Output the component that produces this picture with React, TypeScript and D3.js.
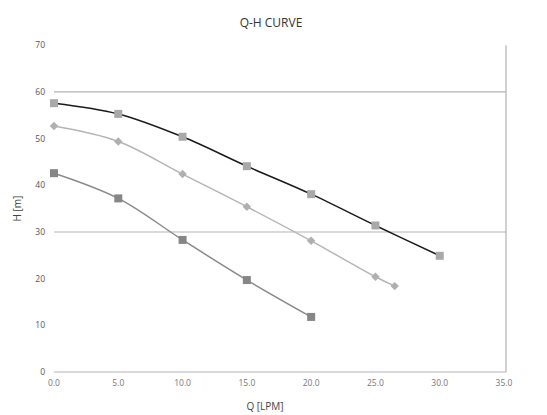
import React from "react";
import * as d3 from "d3";

const title = "Q-H CURVE";
const xTitle = "Q [LPM]";
const yTitle = "H [m]";

const xTicks = [0, 5, 10, 15, 20, 25, 30, 35];
const yTicks = [0, 10, 20, 30, 40, 50, 60, 70];
const gridValues = [0, 30, 60];

const seriesAQ = [0, 5, 10, 15, 20, 25, 30];
const seriesAH = [57.6, 55.3, 50.4, 44.1, 38.1, 31.4, 24.9];

const seriesBQ = [0, 5, 10, 15, 20, 25, 26.5];
const seriesBH = [52.7, 49.4, 42.4, 35.4, 28.1, 20.4, 18.4];

const seriesCQ = [0, 5, 10, 15, 20];
const seriesCH = [42.6, 37.2, 28.3, 19.7, 11.8];

const W = 547;
const H = 415;
const x = d3.scaleLinear().domain([0, 35]).range([54, 504]);
const y = d3.scaleLinear().domain([0, 70]).range([372, 45.3]);

const line = d3
  .line<[number, number]>()
  .x((d) => x(d[0]))
  .y((d) => y(d[1]))
  .curve(d3.curveCatmullRom.alpha(0.5));

function pts(q: number[], h: number[]): [number, number][] {
  return q.map((v, i) => [v, h[i]]);
}

export default function App() {
  const a = pts(seriesAQ, seriesAH);
  const b = pts(seriesBQ, seriesBH);
  const c = pts(seriesCQ, seriesCH);
  const font = "'Open Sans', 'Noto Sans', sans-serif";
  return (
    <svg width={W} height={H} style={{ display: "block", position: "absolute", left: 0, top: 0 }} fontFamily={font}>
      <rect x={0} y={0} width={W} height={H} fill="#ffffff" />
      <text x={271} y={27} textAnchor="middle" fontSize={12} fill="#333">{title}</text>
      {gridValues.map((g) => (
        <line key={g} x1={x(0)} x2={506} y1={y(g)} y2={y(g)} stroke="#b3b3b3" strokeWidth={1.2} />
      ))}
      <line x1={506} x2={506} y1={y(70)} y2={y(0)} stroke="#b3b3b3" strokeWidth={1.2} />
      {yTicks.map((t) => (
        <text key={t} x={45} y={y(t) + 3} textAnchor="end" fontSize={8.5} fill="#555">{t}</text>
      ))}
      {xTicks.map((t) => (
        <text key={t} x={x(t)} y={386} textAnchor="middle" fontSize={8.5} fill="#777">{t.toFixed(1)}</text>
      ))}
      <text x={265} y={410} textAnchor="middle" fontSize={10} fill="#444">{xTitle}</text>
      <text transform={`translate(21,${y(35)}) rotate(-90)`} textAnchor="middle" fontSize={10} fill="#444">{yTitle}</text>

      <path d={line(c) || ""} fill="none" stroke="#8a8a8a" strokeWidth={1.5} />
      <path d={line(b) || ""} fill="none" stroke="#b5b5b5" strokeWidth={1.5} />
      <path d={line(a) || ""} fill="none" stroke="#1a1a1a" strokeWidth={1.5} />

      {c.map((p, i) => (
        <rect key={"c" + i} x={x(p[0]) - 4} y={y(p[1]) - 4} width={8} height={8} fill="#868686" />
      ))}
      {b.map((p, i) => (
        <rect key={"b" + i} x={x(p[0]) - 3} y={y(p[1]) - 3} width={6} height={6} fill="#b0b0b0"
          transform={`rotate(45 ${x(p[0])} ${y(p[1])})`} />
      ))}
      {a.map((p, i) => (
        <rect key={"a" + i} x={x(p[0]) - 4} y={y(p[1]) - 4} width={8} height={8} fill="#a9a9a9" />
      ))}
    </svg>
  );
}
